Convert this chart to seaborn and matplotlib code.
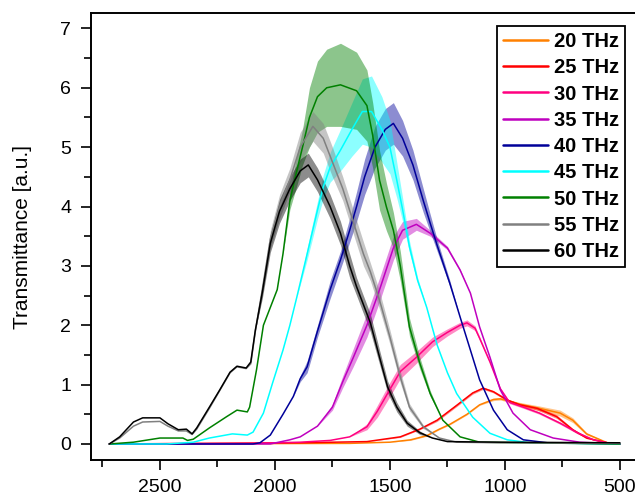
import numpy as np
import pandas as pd
import matplotlib
matplotlib.use("Agg")
import matplotlib.pyplot as plt
from matplotlib.ticker import MultipleLocator
import seaborn as sns

# Spectra (wavenumber, transmittance, noise half-width)
labels = ["20 THz", "25 THz", "30 THz", "35 THz", "40 THz",
          "45 THz", "50 THz", "55 THz", "60 THz"]
colors = ["#FF8000", "#FF0000", "#FF0080", "#BF00BF", "#000099",
          "#00FFFF", "#008000", "#808080", "#000000"]

wn_20 = [2720, 1675, 1500, 1410, 1340, 1285, 1240, 1165, 1110, 1050, 1020, 990, 935, 850, 760, 705, 645, 555, 500]
tr_20 = [0, 0.01, 0.03, 0.07, 0.14, 0.25, 0.33, 0.5, 0.66, 0.75, 0.76, 0.73, 0.67, 0.6, 0.52, 0.4, 0.17, 0.02, 0]
nz_20 = [0, 0, 0, 0.01, 0.01, 0.01, 0.01, 0.01, 0.01, 0.02, 0.02, 0.02, 0.03, 0.04, 0.05, 0.04, 0.02, 0, 0]

wn_25 = [2720, 1890, 1600, 1455, 1370, 1295, 1210, 1140, 1095, 1050, 990, 935, 860, 775, 705, 645, 555, 500]
tr_25 = [0, 0.02, 0.04, 0.12, 0.25, 0.4, 0.65, 0.86, 0.94, 0.88, 0.74, 0.66, 0.6, 0.46, 0.24, 0.1, 0.02, 0]
nz_25 = [0, 0, 0, 0.01, 0.01, 0.02, 0.02, 0.02, 0.02, 0.02, 0.02, 0.02, 0.03, 0.03, 0.02, 0.01, 0, 0]

wn_30 = [2720, 2110, 1890, 1760, 1675, 1600, 1555, 1500, 1455, 1385, 1315, 1250, 1195,
         1165, 1130, 1110, 1065, 1020, 980, 920, 850, 760, 685, 615, 530, 500]
tr_30 = [0, 0.01, 0.03, 0.06, 0.12, 0.29, 0.55, 0.92, 1.22, 1.46, 1.72, 1.88, 2.0,
         2.04, 1.95, 1.78, 1.38, 0.93, 0.7, 0.62, 0.52, 0.35, 0.19, 0.07, 0, 0]
nz_30 = [0, 0, 0, 0, 0, 0.05, 0.1, 0.12, 0.12, 0.1, 0.08, 0.06, 0.05,
         0.05, 0.04, 0.03, 0.02, 0.02, 0.02, 0.02, 0.02, 0.02, 0.02, 0.01, 0, 0]

wn_35 = [2720, 2020, 1935, 1890, 1815, 1750, 1705, 1660, 1600, 1545, 1485, 1445, 1385,
         1325, 1250, 1195, 1150, 1110, 1065, 1020, 965, 890, 790, 675, 500]
tr_35 = [0, 0, 0.07, 0.12, 0.3, 0.62, 1.05, 1.45, 2.0, 2.6, 3.3, 3.6, 3.7,
         3.55, 3.3, 2.93, 2.54, 1.97, 1.46, 0.91, 0.52, 0.24, 0.1, 0.03, 0]
nz_35 = [0, 0, 0, 0, 0, 0.05, 0.1, 0.15, 0.2, 0.2, 0.2, 0.15, 0.1,
         0.05, 0.03, 0.02, 0, 0, 0, 0, 0, 0, 0, 0, 0]

wn_40 = [2720, 2095, 2065, 2020, 1965, 1920, 1890, 1860, 1815, 1760, 1715, 1675, 1645, 1610, 1565,
         1520, 1485, 1445, 1400, 1355, 1325, 1295, 1240, 1195, 1150, 1110, 1050, 990, 920, 815, 500]
tr_40 = [0, 0, 0.02, 0.15, 0.5, 0.8, 1.1, 1.3, 1.9, 2.6, 3.1, 3.6, 4.0, 4.5, 5.0,
         5.3, 5.4, 5.15, 4.7, 4.1, 3.72, 3.35, 2.71, 2.14, 1.58, 1.08, 0.57, 0.24, 0.07, 0.02, 0]
nz_40 = [0, 0, 0, 0, 0, 0, 0.05, 0.1, 0.1, 0.15, 0.15, 0.2, 0.25, 0.3, 0.35,
         0.35, 0.35, 0.3, 0.25, 0.2, 0.15, 0.1, 0.05, 0, 0, 0, 0, 0, 0, 0, 0]

wn_45 = [2720, 2470, 2355, 2285, 2185, 2120, 2095, 2050, 2010, 1965, 1935, 1905, 1860, 1815, 1790,
         1760, 1715, 1665, 1620, 1580, 1535, 1500, 1470, 1445, 1415, 1380, 1340, 1295, 1250, 1210,
         1140, 1065, 990, 890, 500]
tr_45 = [0, 0, 0.03, 0.1, 0.17, 0.15, 0.2, 0.52, 1.03, 1.58, 2.0, 2.47, 3.2, 3.94, 4.33,
         4.66, 4.95, 5.3, 5.6, 5.6, 5.3, 5.0, 4.44, 3.95, 3.32, 2.76, 2.3, 1.67, 1.2, 0.85,
         0.45, 0.18, 0.07, 0.02, 0]
nz_45 = [0, 0, 0, 0, 0, 0, 0, 0, 0, 0, 0, 0, 0.1, 0.15, 0.2,
         0.25, 0.35, 0.45, 0.55, 0.6, 0.55, 0.45, 0.3, 0.2, 0.1, 0.05, 0, 0, 0, 0,
         0, 0, 0, 0, 0]

wn_50 = [2720, 2615, 2500, 2400, 2380, 2355, 2285, 2210, 2165, 2120, 2110, 2080, 2050, 1990, 1965,
         1935, 1905, 1880, 1850, 1815, 1775, 1715, 1645, 1600, 1575, 1545, 1515, 1485, 1455, 1415,
         1370, 1325, 1270, 1195, 1110, 500]
tr_50 = [0, 0.03, 0.1, 0.1, 0.06, 0.08, 0.27, 0.46, 0.57, 0.54, 0.62, 1.25, 2.0, 2.6, 3.2,
         4.1, 4.6, 5.0, 5.5, 5.85, 6.0, 6.05, 5.95, 5.7, 5.2, 4.44, 3.99, 3.6, 3.0, 1.97,
         1.36, 0.85, 0.4, 0.12, 0.03, 0]
nz_50 = [0, 0, 0, 0, 0, 0, 0, 0, 0, 0, 0, 0, 0, 0, 0,
         0.15, 0.25, 0.3, 0.5, 0.6, 0.65, 0.7, 0.65, 0.6, 0.55, 0.5, 0.4, 0.3, 0.25, 0.15,
         0.1, 0.05, 0, 0, 0, 0]

wn_55 = [2720, 2675, 2615, 2575, 2500, 2465, 2420, 2385, 2360, 2340, 2285, 2240, 2195, 2165, 2125,
         2105, 2085, 2055, 2020, 1980, 1935, 1890, 1835, 1790, 1750, 1705, 1660, 1615, 1585, 1545,
         1500, 1455, 1415, 1355, 1285, 1210, 1020, 500]
tr_55 = [0, 0.1, 0.3, 0.37, 0.38, 0.3, 0.22, 0.22, 0.16, 0.25, 0.6, 0.9, 1.2, 1.3, 1.27,
         1.35, 1.9, 2.6, 3.45, 4.0, 4.45, 5.0, 5.35, 5.15, 4.75, 4.3, 3.75, 3.2, 2.9, 2.42,
         1.8, 1.13, 0.62, 0.29, 0.1, 0.03, 0.02, 0.01]
nz_55 = [0, 0, 0, 0, 0, 0, 0, 0, 0, 0, 0, 0, 0, 0, 0,
         0, 0, 0.1, 0.15, 0.2, 0.2, 0.25, 0.25, 0.25, 0.25, 0.2, 0.2, 0.2, 0.15, 0.15,
         0.12, 0.1, 0.06, 0.03, 0, 0, 0, 0]

wn_60 = [2720, 2675, 2615, 2575, 2500, 2465, 2420, 2385, 2360, 2340, 2285, 2240, 2195, 2165, 2125,
         2105, 2085, 2055, 2020, 1980, 1935, 1890, 1855, 1815, 1760, 1715, 1675, 1645, 1585, 1545,
         1510, 1470, 1425, 1370, 1315, 1250, 1020, 500]
tr_60 = [0, 0.12, 0.37, 0.44, 0.44, 0.34, 0.24, 0.25, 0.17, 0.27, 0.62, 0.91, 1.21, 1.31, 1.28,
         1.38, 1.92, 2.55, 3.38, 3.92, 4.3, 4.6, 4.7, 4.45, 4.0, 3.55, 3.0, 2.65, 2.04, 1.46,
         0.96, 0.62, 0.35, 0.19, 0.10, 0.04, 0.03, 0.02]
nz_60 = [0, 0, 0, 0, 0, 0, 0, 0, 0, 0, 0, 0, 0, 0, 0,
         0, 0, 0.1, 0.15, 0.2, 0.2, 0.2, 0.2, 0.2, 0.2, 0.2, 0.2, 0.15, 0.15, 0.12,
         0.1, 0.08, 0.05, 0.03, 0, 0, 0, 0]

wn_all = [wn_20, wn_25, wn_30, wn_35, wn_40, wn_45, wn_50, wn_55, wn_60]
tr_all = [tr_20, tr_25, tr_30, tr_35, tr_40, tr_45, tr_50, tr_55, tr_60]
nz_all = [nz_20, nz_25, nz_30, nz_35, nz_40, nz_45, nz_50, nz_55, nz_60]

frames = []
for lab, w, t in zip(labels, wn_all, tr_all):
    frames.append(pd.DataFrame({"wn": w, "T": t, "label": lab}))
df = pd.concat(frames, ignore_index=True)

sns.set_style("ticks")
plt.rcParams["font.family"] = ["Liberation Sans", "DejaVu Sans"]

fig = plt.figure(figsize=(6.35, 4.98), dpi=100)
ax = fig.add_axes([0.1428, 0.0763, 0.865, 0.8976])

# noisy bands first, then lines on top
for lab, c, w, t, n in zip(labels, colors, wn_all, tr_all, nz_all):
    t = np.array(t)
    n = np.array(n)
    ax.fill_between(w, t - n, t + n, color=c, alpha=0.45, lw=0)

sns.lineplot(data=df, x="wn", y="T", hue="label", palette=dict(zip(labels, colors)),
             hue_order=labels, sort=False, estimator=None, linewidth=1.1, ax=ax, legend=False)

ax.set_xlim(2801, 413)
ax.set_ylim(-0.27, 7.26)
ax.xaxis.set_major_locator(MultipleLocator(500))
ax.xaxis.set_minor_locator(MultipleLocator(250))
ax.yaxis.set_major_locator(MultipleLocator(1))
ax.yaxis.set_minor_locator(MultipleLocator(0.5))
ax.tick_params(which="major", direction="out", length=7, width=1.2, labelsize=14, pad=7,
               colors="black")
ax.tick_params(which="minor", direction="out", length=5, width=1.2, colors="black")
ax.set_xlabel("")
ax.set_ylabel("Transmittance [a.u.]", fontsize=15, labelpad=20, color="black")
for s in ax.spines.values():
    s.set_linewidth(1.4)
    s.set_color("black")

handles = [plt.Line2D([], [], color=c, lw=1.8) for c in colors]
leg = ax.legend(handles, labels, loc="upper right", bbox_to_anchor=(0.9727, 0.971),
                borderaxespad=0, fancybox=False, framealpha=1, edgecolor="black",
                prop={"weight": "bold", "size": 14.5}, handlelength=2.2, handletextpad=0.3,
                labelspacing=0.36, borderpad=0.3)
leg.get_frame().set_linewidth(1.3)
for txt in leg.get_texts():
    txt.set_color("black")

fig.savefig("out.png", dpi=100)
